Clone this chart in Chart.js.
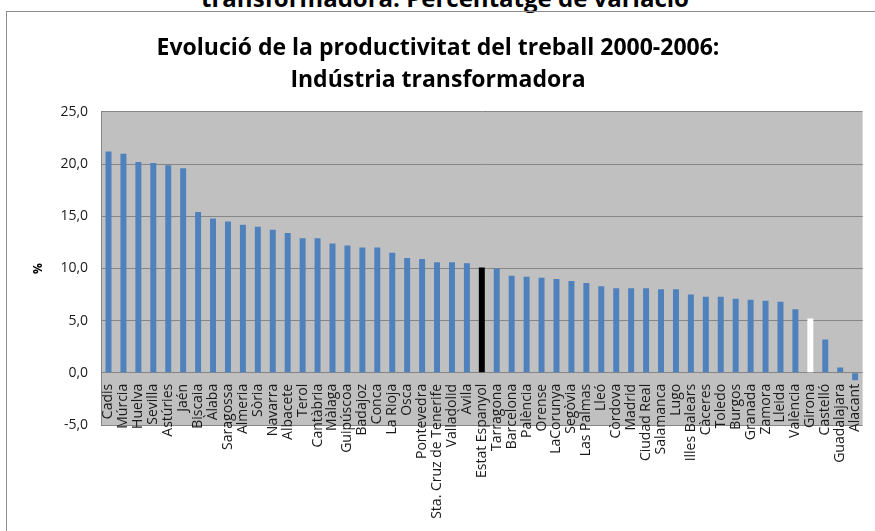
<!DOCTYPE html>
<html lang="ca">
<head>
  <meta charset="UTF-8">
  <title>Productivitat del treball 2000-2006</title>
  <script src="https://cdn.jsdelivr.net/npm/chart.js"></script>
  <style>
    body {
      margin: 0;
      background-color: #ffffff;
      font-family: "Open Sans", sans-serif;
      overflow: hidden;
    }

    .top-caption {
      position: absolute;
      left: 0;
      top: -13px;
      width: 890px;
      text-align: center;
      font-weight: bold;
      font-size: 24px;
      line-height: 22px;
      color: #000;
    }

    .chart-box {
      position: absolute;
      left: 6px;
      top: 11px;
      width: 875px;
      height: 530px;
      border: 1px solid #8c8c8c;
    }

    canvas {
      display: block;
    }
  </style>
</head>
<body>
  <div class="top-caption">transformadora. Percentatge de variació</div>
  <div class="chart-box">
    <canvas id="prodChart" width="868" height="519"></canvas>
  </div>

  <script>
    const provinces = [
      'Cadis', 'Múrcia', 'Huelva', 'Sevilla', 'Astúries', 'Jaén', 'Biscaia', 'Àlaba',
      'Saragossa', 'Almeria', 'Sòria', 'Navarra', 'Albacete', 'Terol', 'Cantàbria',
      'Màlaga', 'Guipúscoa', 'Badajoz', 'Conca', 'La Rioja', 'Osca', 'Pontevedra',
      'Sta. Cruz de Tenerife', 'Valladolid', 'Àvila', 'Estat Espanyol', 'Tarragona',
      'Barcelona', 'Palència', 'Orense', 'LaCorunya', 'Segòvia', 'Las Palmas', 'Lleó',
      'Còrdova', 'Madrid', 'Ciudad Real', 'Salamanca', 'Lugo', 'Illes Balears',
      'Càceres', 'Toledo', 'Burgos', 'Granada', 'Zamora', 'Lleida', 'València',
      'Girona', 'Castelló', 'Guadalajara', 'Alacant'
    ];

    const growth = [
      21.2, 21.0, 20.2, 20.1, 19.9, 19.6, 15.4, 14.8,
      14.5, 14.2, 14.0, 13.7, 13.4, 12.9, 12.9,
      12.4, 12.2, 12.0, 12.0, 11.5, 11.0, 10.9,
      10.6, 10.6, 10.5, 10.1, 10.0,
      9.3, 9.2, 9.1, 9.0, 8.8, 8.6, 8.3,
      8.1, 8.1, 8.1, 8.0, 8.0, 7.5,
      7.3, 7.3, 7.1, 7.0, 6.9, 6.8, 6.1,
      5.2, 3.2, 0.5, -0.7
    ];

    const yTicks = [-5, 0, 5, 10, 15, 20, 25];

    // highlighted categories
    const spainLabel = 'Estat Espanyol';
    const gironaLabel = 'Girona';

    const barColors = provinces.map(p => {
      if (p === spainLabel) return '#000000';
      if (p === gironaLabel) return '#ffffff';
      return '#4f81bd';
    });

    const plotBackground = {
      id: 'plotBackground',
      beforeDraw(chart) {
        const { ctx, chartArea } = chart;
        ctx.save();
        ctx.fillStyle = '#c0c0c0';
        ctx.fillRect(chartArea.left, chartArea.top, chartArea.right - chartArea.left, chartArea.bottom - chartArea.top);
        ctx.restore();
      }
    };

    const ctx = document.getElementById('prodChart').getContext('2d');

    new Chart(ctx, {
      type: 'bar',
      data: {
        labels: provinces,
        datasets: [{
          label: '%',
          data: growth,
          backgroundColor: barColors,
          borderWidth: 0,
          barPercentage: 0.4,
          categoryPercentage: 1.0,
        }],
      },
      options: {
        responsive: false,
        animation: false,
        layout: {
          padding: { left: 0, right: 6, top: 0, bottom: 106 }
        },
        plugins: {
          legend: { display: false },
          tooltip: { enabled: false },
          title: {
            display: true,
            text: ['Evolució de la productivitat del treball 2000-2006:', 'Indústria transformadora'],
            color: '#000000',
            font: { family: 'Open Sans', size: 23, weight: 'bold', lineHeight: 1.39 },
            padding: { top: 20, bottom: 16 },
          },
        },
        scales: {
          x: {
            position: { y: 0 },
            grid: { display: false },
            border: { display: false },
            ticks: {
              autoSkip: false,
              minRotation: 90,
              maxRotation: 90,
              padding: 3,
              color: '#1a1a1a',
              font: { family: 'Open Sans', size: 14 },
            },
          },
          y: {
            min: -5,
            max: 25,
            afterBuildTicks(axis) {
              axis.ticks = yTicks.map(v => ({ value: v }));
            },
            grid: {
              color: '#868686',
              lineWidth: 1,
              drawTicks: false,
            },
            border: { color: '#868686' },
            ticks: {
              padding: 13,
              color: '#1a1a1a',
              font: { family: 'Open Sans', size: 14 },
              callback: v => v.toFixed(1).replace('.', ','),
            },
            title: {
              display: true,
              text: '%',
              color: '#000000',
              font: { family: 'Open Sans', size: 12, weight: 'bold' },
              padding: { top: 24, bottom: 2 },
            },
          },
        },
      },
      plugins: [plotBackground],
    });
  </script>
</body>
</html>
